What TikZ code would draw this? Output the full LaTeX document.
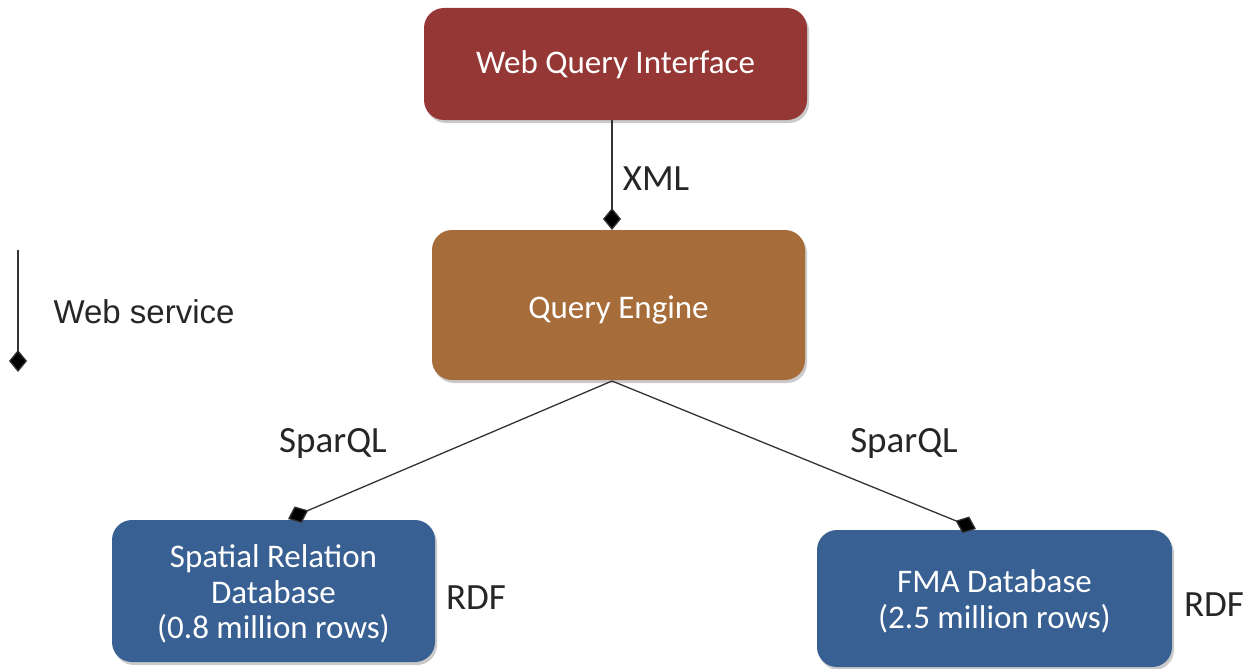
\documentclass[tikz,border=0pt]{standalone}
\usepackage{fontspec}
\setmainfont{Carlito}
\newfontfamily\arialfont{Liberation Sans}
\usetikzlibrary{arrows.meta,shadows}
\definecolor{wqi}{HTML}{953735}
\definecolor{qe}{HTML}{A66C3A}
\definecolor{db}{HTML}{386092}
\newcommand{\boxlines}[2]{\raisebox{-#1}[\height][\depth]{\begin{tabular}{@{}c@{}}#2\end{tabular}}}
\tikzset{
  boxnode/.style={rounded corners=20pt, text=white, align=center, inner sep=0pt,
    font=\fontsize{33}{35.5}\selectfont,
    drop shadow={shadow xshift=2pt, shadow yshift=-3pt, opacity=0.35, fill=black!60}},
  lbl/.style={font=\fontsize{37}{40}\selectfont, text=black!85},
  conn/.style={draw=black!80, line width=1.3pt, -{Diamond[length=22pt,width=18pt,fill=black]}}
}
\begin{document}
\begin{tikzpicture}[x=1pt,y=-1pt]
\useasboundingbox (0,0) rectangle (1253,669);
\node[boxnode, fill=wqi, minimum width=383pt, minimum height=112pt] (wqi) at (615.5,64) {\boxlines{2pt}{Web Query Interface}};
\node[boxnode, fill=qe, minimum width=373pt, minimum height=150pt] (qe) at (618.5,305) {\boxlines{6pt}{Query Engine}};
\node[boxnode, fill=db, minimum width=323pt, minimum height=142pt] (srd) at (273.5,591) {\boxlines{5pt}{Spatial Relation\\Database\\(0.8 million rows)}};
\node[boxnode, fill=db, minimum width=355pt, minimum height=137pt] (fma) at (994.5,598.5) {\boxlines{5pt}{FMA Database\\(2.5 million rows)}};
\coordinate (wqib) at (612,120);
\coordinate (qet) at (612,230);
\coordinate (qeb) at (612,381);
\coordinate (srdt) at (288,519);
\coordinate (fmat) at (976,529);
\draw[conn] (wqib) -- (qet);
\draw[conn] (qeb) -- (srdt);
\draw[conn] (qeb) -- (fmat);
\node[lbl] (xml) at (656,179) {XML};
\node[lbl] (sq1) at (333,443) {SparQL};
\node[lbl] (sq2) at (904,443) {SparQL};
\node[lbl] (rdf1) at (476,598) {RDF};
\node[lbl] (rdf2) at (1214,605) {RDF};
\coordinate (ws1) at (18,250);
\coordinate (ws2) at (18,372);
\draw[conn] (ws1) -- (ws2);
\node[lbl, font=\arialfont\fontsize{33}{36}\selectfont, anchor=west] (ws) at (50,312) {Web service};
\end{tikzpicture}
\end{document}
